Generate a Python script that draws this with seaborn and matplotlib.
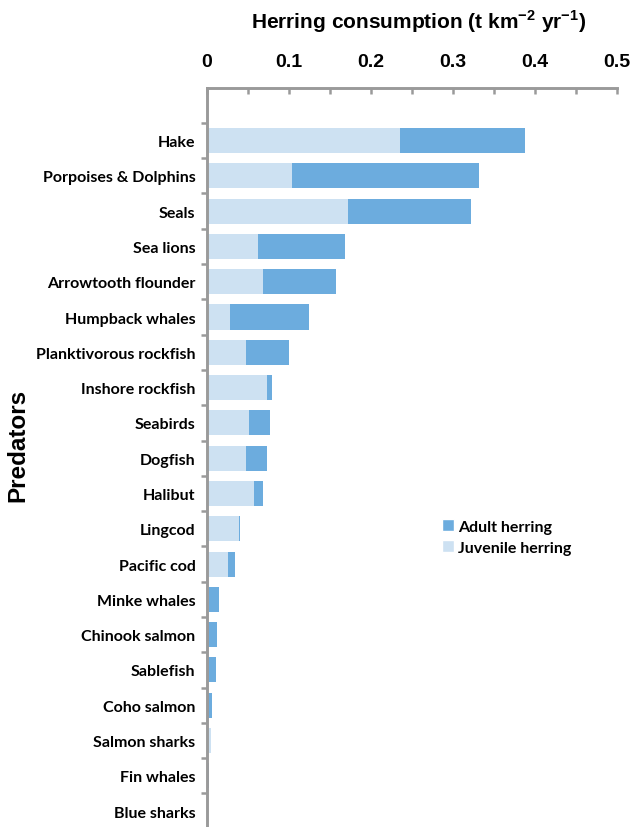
import numpy as np
import pandas as pd
import matplotlib
matplotlib.use("Agg")
import matplotlib.pyplot as plt
import seaborn as sns
from matplotlib.patches import Patch
from matplotlib.ticker import FixedLocator, MultipleLocator

# Herring consumption by predator group (t km^-2 yr^-1)
predators = [
    "Hake", "Porpoises & Dolphins", "Seals", "Sea lions", "Arrowtooth flounder",
    "Humpback whales", "Planktivorous rockfish", "Inshore rockfish", "Seabirds",
    "Dogfish", "Halibut", "Lingcod", "Pacific cod", "Minke whales",
    "Chinook salmon", "Sablefish", "Coho salmon", "Salmon sharks", "Fin whales",
    "Blue sharks",
]
juvenile = [0.235, 0.104, 0.172, 0.062, 0.069, 0.028, 0.048, 0.074, 0.051,
            0.048, 0.057, 0.039, 0.026, 0.003, 0.0, 0.0, 0.0, 0.005, 0.0, 0.0]
adult = [0.153, 0.228, 0.150, 0.106, 0.089, 0.097, 0.052, 0.006, 0.026,
         0.025, 0.011, 0.002, 0.008, 0.012, 0.013, 0.011, 0.006, 0.0, 0.003, 0.0]
x_ticks = [0.0, 0.1, 0.2, 0.3, 0.4, 0.5]
x_tick_labels = ["0", "0.1", "0.2", "0.3", "0.4", "0.5"]

sns.set_theme(style="white")
plt.rcParams["font.family"] = ["Liberation Sans", "DejaVu Sans"]
plt.rcParams["mathtext.fontset"] = "custom"
plt.rcParams["mathtext.bf"] = "Liberation Sans:bold"
plt.rcParams["mathtext.rm"] = "Liberation Sans:bold"
plt.rcParams["text.color"] = "black"
plt.rcParams["xtick.labelcolor"] = "black"
plt.rcParams["ytick.labelcolor"] = "black"

ADULT = "#6CACDE"
JUV = "#CDE1F2"
AXIS = "#9A9A9A"
LABEL_FONT = dict(family=["Lato", "DejaVu Sans"], weight="bold", size=11.5)

df = pd.DataFrame({"predator": predators, "juvenile": juvenile, "adult": adult})
df["total"] = df["juvenile"] + df["adult"]

fig = plt.figure(figsize=(6.31, 8.28), dpi=100)
ax = fig.add_axes([206.7 / 631, 0.0, (617.3 - 206.7) / 631, 1 - 89.3 / 828])

# Stacked bars: full total in adult colour, juvenile share drawn over it from zero
sns.barplot(data=df, x="total", y="predator", order=predators, orient="h",
            color=ADULT, saturation=1, width=0.71, errorbar=None,
            linewidth=0, ax=ax)
sns.barplot(data=df, x="juvenile", y="predator", order=predators, orient="h",
            color=JUV, saturation=1, width=0.71, errorbar=None,
            linewidth=0, ax=ax)

ax.set_xlim(0, 0.5)
ax.set_ylim(19.45, -1.48)
ax.set_xlabel("")
ax.set_ylabel("")

# Top value axis
ax.xaxis.tick_top()
ax.set_xticks(x_ticks)
ax.set_xticklabels(x_tick_labels, fontsize=14, fontweight="bold")
ax.xaxis.set_minor_locator(MultipleLocator(0.05))
ax.tick_params(axis="x", which="both", direction="in", length=4.5, width=1.8,
               color=AXIS, pad=13, bottom=False, top=True,
               labelbottom=False, labeltop=True)

# Category axis: labels at bar centres, tick marks at the boundaries
ax.set_yticks(range(len(predators)))
ax.set_yticklabels(predators, fontdict=LABEL_FONT)
ax.yaxis.set_minor_locator(FixedLocator(np.arange(-0.5, len(predators), 1.0)))
ax.tick_params(axis="y", which="major", length=0, pad=8)
ax.tick_params(axis="y", which="minor", direction="out", length=4, width=1.8,
               color=AXIS, left=True)

for side in ("right", "bottom"):
    ax.spines[side].set_visible(False)
for side in ("left", "top"):
    ax.spines[side].set_visible(True)
    ax.spines[side].set_color(AXIS)
    ax.spines[side].set_linewidth(2.1)

fig.text(419 / 631, 1 - 22 / 828,
         r"Herring consumption (t km$^{\mathbf{-2}}$ yr$^{\mathbf{-1}}$)",
         ha="center", va="center", fontsize=15, fontweight="bold")
fig.text(18 / 631, 1 - 445 / 828, "Predators", rotation=90, ha="center",
         va="center", fontsize=17.5, fontweight="bold")

handles = [Patch(facecolor=ADULT, label="Adult herring"),
           Patch(facecolor=JUV, label="Juvenile herring")]
fig.legend(handles=handles, loc="upper left",
           bbox_to_anchor=(428 / 631, 1 - 506 / 828), frameon=False,
           handlelength=0.75, handleheight=0.75, handletextpad=0.25,
           labelspacing=0.4, prop=LABEL_FONT)

fig.savefig("out.png", dpi=100)
